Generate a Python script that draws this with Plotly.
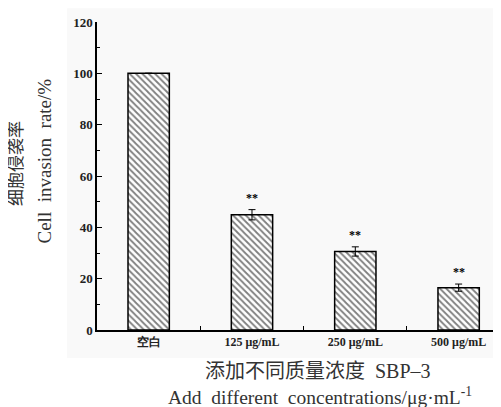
import plotly.graph_objects as go

categories = ["空白", "125 μg/mL", "250 μg/mL", "500 μg/mL"]
values = [100.0, 44.9, 30.6, 16.5]
errors = [0.0, 2.0, 1.8, 1.4]
marks = ["", "**", "**", "**"]
y_ticks = [0, 20, 40, 60, 80, 100, 120]

SERIF = "Liberation Serif, Times New Roman, serif"
CJK = "Liberation Serif, Noto Sans CJK SC, serif"
NB = "\u00a0"

fig = go.Figure()
fig.add_trace(go.Bar(
    x=categories, y=values,
    width=0.4,
    marker=dict(color="white", line=dict(color="black", width=1.5),
                pattern=dict(shape="\\", size=4.5, solidity=0.4, fgcolor="black", bgcolor="white")),
    error_y=dict(type="data", array=errors, visible=True, color="black", thickness=1, width=3.5),
    showlegend=False,
))

for c, v, e, m in zip(categories, values, errors, marks):
    if m:
        fig.add_annotation(x=c, y=v + e, text=m, showarrow=False, yshift=12,
                           font=dict(family=SERIF, size=12, color="black", weight="bold"))

# faint backdrop
fig.add_shape(type="rect", xref="paper", yref="paper", x0=-0.074, x1=1.0, y0=-0.091, y1=1.045,
              fillcolor="#f9f9f9", line=dict(width=0), layer="below")

fig.add_annotation(xref="paper", yref="paper", x=-0.2, y=0.54, text="细胞侵袭率",
                   textangle=-90, showarrow=False, xanchor="center", yanchor="middle",
                   font=dict(family=CJK, size=17, color="#333"))
fig.add_annotation(xref="paper", yref="paper", x=-0.129, y=0.55,
                   text=f"Cell{NB*2}invasion{NB*2}rate/%",
                   textangle=-90, showarrow=False, xanchor="center", yanchor="middle",
                   font=dict(family=SERIF, size=19, color="#333"))
fig.add_annotation(xref="paper", yref="paper", x=0.547, y=-0.133,
                   text=f"添加不同质量浓度{NB*2}SBP–3",
                   showarrow=False, xanchor="center", yanchor="middle",
                   font=dict(family=CJK, size=20, color="#333"))
fig.add_annotation(xref="paper", yref="paper", x=0.553, y=-0.214,
                   text=f"Add{NB*2}different{NB*2}concentrations/μg·mL<sup>-1</sup>",
                   showarrow=False, xanchor="center", yanchor="middle",
                   font=dict(family=SERIF, size=19.5, color="#333"))

fig.update_xaxes(range=[-0.5, 3.41], showline=True, linecolor="black", linewidth=1.5,
                 ticks="inside", tickson="boundaries", ticklen=4, tickcolor="black",
                 tickfont=dict(family=SERIF, size=12, color="#222", weight="bold"),
                 showgrid=False, zeroline=False)
fig.update_yaxes(range=[0, 120], tickvals=y_ticks, showline=True, linecolor="black", linewidth=1.5,
                 ticks="inside", ticklen=5, tickcolor="black",
                 minor=dict(ticks="inside", dtick=10, ticklen=3, tickcolor="black"),
                 tickfont=dict(family=SERIF, size=13, color="#222", weight="bold"),
                 showgrid=False, zeroline=False)

# page body has an 8px default margin, so the figure is sized to fit the window
fig.update_layout(width=493, height=399, margin=dict(l=89, r=0, t=14, b=77),
                  paper_bgcolor="white", plot_bgcolor="rgba(0,0,0,0)",
                  font=dict(family=SERIF))

fig.write_html("out.html")
